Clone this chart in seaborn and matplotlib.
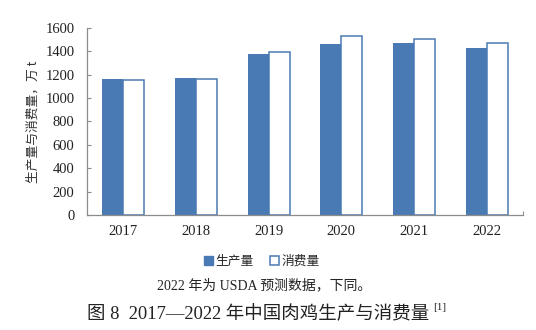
import matplotlib
matplotlib.use("Agg")
import matplotlib.pyplot as plt
from matplotlib.patches import Patch
import seaborn as sns
import pandas as pd

years = ["2017", "2018", "2019", "2020", "2021", "2022"]
production = [1161, 1170, 1375, 1461, 1469, 1427]
consumption = [1153, 1159, 1390, 1526, 1501, 1467]
series_names = ["生产量", "消费量"]
y_label = "生产量与消费量，万 t"
note = "2022 年为 USDA 预测数据，下同。"
title = "图 8  2017—2022 年中国肉鸡生产与消费量"

sns.set_theme(style="white")
plt.rcParams["font.family"] = ["Liberation Serif", "Noto Sans CJK SC"]
plt.rcParams["axes.unicode_minus"] = False

blue = "#4A7AB4"
axis_grey = "#8C8C8C"
text_col = "#222222"
cjk_first = ["Noto Sans CJK SC", "Liberation Serif"]

df = pd.DataFrame({
    "year": years * 2,
    "value": production + consumption,
    "series": [series_names[0]] * len(years) + [series_names[1]] * len(years),
})

fig = plt.figure(figsize=(5.36, 3.30), dpi=100)
ax = fig.add_axes([87 / 536, 1 - 215 / 330, (523 - 87) / 536, (215 - 27.7) / 330])

sns.barplot(data=df, x="year", y="value", hue="series", hue_order=series_names,
            palette=[blue, "white"], width=0.58, saturation=1, ax=ax,
            legend=False, errorbar=None)

for patch in ax.patches:
    fc = patch.get_facecolor()
    patch.set_edgecolor(blue)
    patch.set_linewidth(1.1 if fc[0] > 0.9 else 0)

ax.set_ylim(0, 1600)
ax.set_xlim(-0.5, 5.5)
ax.set_yticks(range(0, 1601, 200))
ax.set_xlabel("")
ax.set_ylabel(y_label, fontsize=9.2, labelpad=4, family=cjk_first, color="#333333")

for side in ("top", "right"):
    ax.spines[side].set_visible(False)
for side in ("left", "bottom"):
    ax.spines[side].set_color(axis_grey)
    ax.spines[side].set_linewidth(0.9)

ax.tick_params(axis="y", direction="in", length=3, width=0.8, color=axis_grey,
               labelsize=10.5, pad=9, left=True)
ax.tick_params(axis="x", length=0, labelsize=10.5, pad=7)
ax.set_xticks([5.5], minor=True)
ax.tick_params(axis="x", which="minor", direction="in", length=3, width=0.8,
               color=axis_grey, bottom=True)
for lbl in ax.get_xticklabels() + ax.get_yticklabels():
    lbl.set_color(text_col)

handles = [Patch(facecolor=blue, edgecolor=blue),
           Patch(facecolor="white", edgecolor=blue, linewidth=1.1)]
fig.legend(handles, series_names, loc="center", bbox_to_anchor=(262 / 536, 1 - 261 / 330),
           ncol=2, frameon=False, handlelength=0.7, handleheight=0.7,
           handletextpad=0.2, columnspacing=1.3,
           prop={"family": cjk_first, "size": 9.2})

fig.text(264 / 536, 1 - 285 / 330, note, ha="center", va="center", fontsize=10,
         color=text_col)
fig.text(87 / 536, 1 - 314 / 330, title, ha="left", va="center", fontsize=13.3,
         color=text_col)
fig.text(433 / 536, 1 - 307 / 330, "[1]", ha="left", va="center", fontsize=8,
         color=text_col)

fig.savefig("out.png", dpi=100)
